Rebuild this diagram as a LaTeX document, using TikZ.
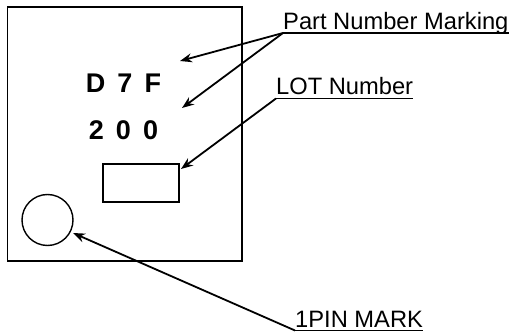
\documentclass[tikz,border=0pt]{standalone}
\usepackage{fontspec}
\setmainfont{Liberation Sans}
\usetikzlibrary{arrows.meta}
\begin{document}
\begin{tikzpicture}[x=1pt,y=-1pt,
  outline/.style={draw=black,line width=1.8pt},
  leader/.style={draw=black,line width=1.8pt,-{Stealth[length=12pt,width=9pt]}},
  uline/.style={draw=black,line width=1.5pt},
  lbl/.style={font=\fontsize{23.7}{28}\selectfont,inner sep=0pt,anchor=base west},
  marktext/.style={font=\fontsize{27}{32}\selectfont\bfseries,inner sep=0pt,anchor=base}]
\useasboundingbox (0,0) rectangle (512,334);
% package outline
\draw[outline] (7.5,7) rectangle (242,261);
\node[draw=black,line width=1.4pt,minimum width=76pt,minimum height=38pt,inner sep=0pt] (lot) at (141,183) {};
\node[draw=black,line width=1.4pt,circle,minimum size=51pt,inner sep=0pt] (pin) at (47.5,220) {};
% marking text
\node[marktext] (m1) at (123.5,92.5) {D\hspace{0.45em}7\hspace{0.45em}F};
\node[marktext] (m2) at (123.5,140) {2\hspace{0.45em}0\hspace{0.45em}0};
% labels
\node[lbl] (pn) at (283,30) {Part Number Marking};
\node[lbl] (ln) at (276,95) {LOT Number};
\node[lbl] (pm) at (295,327) {1PIN MARK};
\coordinate (pnu) at (283,33);
\coordinate (lnu) at (276,98.5);
\coordinate (pmu) at (295,330.5);
\draw[uline] (pnu) -- (pn.east |- pnu);
\draw[uline] (lnu) -- (ln.east |- lnu);
\draw[uline] (pmu) -- (pm.east |- pmu);
% leaders
\coordinate (t1) at (180,61);
\coordinate (t2) at (182,108);
\coordinate (t3) at (181,169);
\coordinate (t4) at (73,233);
\draw[leader] (pnu) -- (t1);
\draw[leader] (pnu) -- (t2);
\draw[leader] (lnu) -- (t3);
\draw[leader] (pmu) -- (t4);
\end{tikzpicture}
\end{document}
